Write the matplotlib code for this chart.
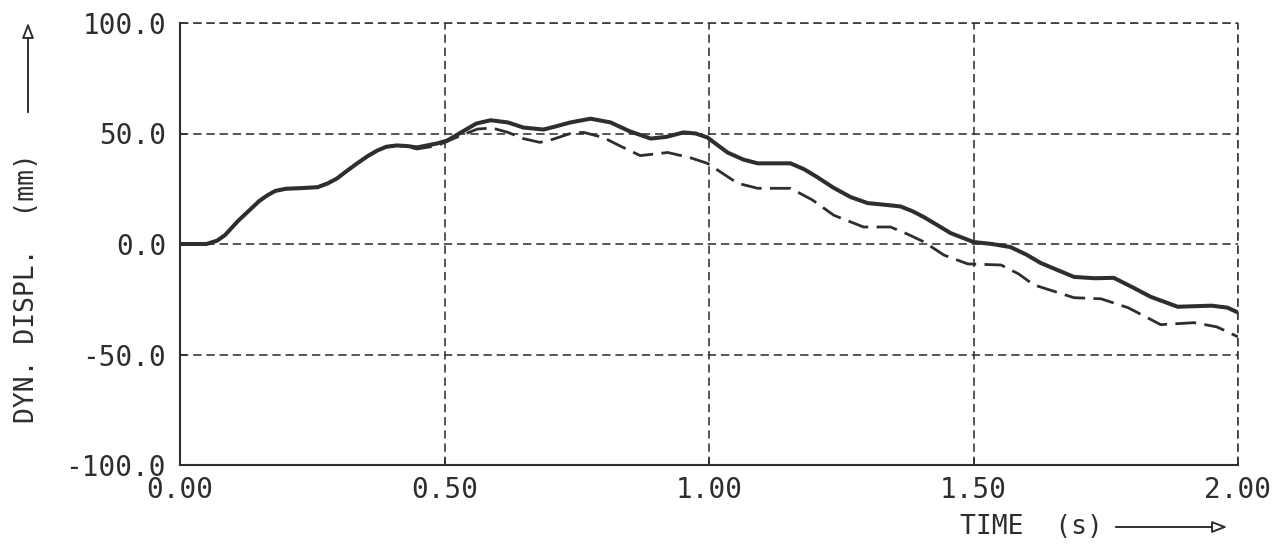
import matplotlib
matplotlib.use("Agg")
import matplotlib.pyplot as plt
from matplotlib.patches import FancyArrowPatch

# values
t_solid = [0, 0.05, 0.07, 0.085, 0.11, 0.13, 0.15, 0.165, 0.18, 0.2, 0.23, 0.26, 0.28,
           0.297, 0.315, 0.335, 0.355, 0.373, 0.39, 0.41,
           0.43, 0.448, 0.486, 0.505, 0.535, 0.56, 0.587, 0.62, 0.649, 0.687, 0.71, 0.738,
           0.776, 0.814, 0.85, 0.89, 0.92, 0.952, 0.975, 0.997, 1.035, 1.065, 1.092,
           1.154, 1.18, 1.205, 1.235, 1.268, 1.3, 1.33, 1.362, 1.385, 1.406, 1.425,
           1.457, 1.5, 1.535, 1.57, 1.6, 1.627, 1.69, 1.73, 1.765, 1.8, 1.835,
           1.886, 1.95, 1.98, 2.0]
y_solid = [0, 0, 1.5, 4, 10.5, 15, 19.5, 22, 24, 25, 25.3, 25.7, 27.5,
           29.7, 33, 36.5, 39.8, 42.3, 44, 44.6,
           44.3, 43.7, 45.5, 46.8, 51, 54.5, 56, 55, 52.7, 51.8, 53.2, 55,
           56.7, 55, 51, 47.7, 48.5, 50.5, 50, 48.2, 41.4, 38.2, 36.5,
           36.5, 33.8, 30.2, 25.5, 21.2, 18.5, 17.8, 17, 14.8, 12.2, 9.5,
           4.9, 0.9, 0, -1.4, -4.8, -8.6, -14.9, -15.5, -15.3, -19.5, -23.9,
           -28.4, -27.9, -28.8, -31]

t_dash = [0, 0.05, 0.07, 0.085, 0.11, 0.13, 0.15, 0.165, 0.18, 0.2, 0.23, 0.26, 0.28,
          0.297, 0.315, 0.335, 0.355, 0.373, 0.39, 0.41,
          0.43, 0.448, 0.486, 0.52, 0.562, 0.59, 0.62, 0.649, 0.68, 0.7, 0.738, 0.763,
          0.8, 0.835, 0.87, 0.9, 0.922, 0.965, 0.997, 1.054, 1.092, 1.154, 1.195,
          1.236, 1.292, 1.343, 1.375, 1.406, 1.444, 1.489, 1.552, 1.585, 1.614,
          1.69, 1.741, 1.792, 1.854, 1.917, 1.96, 2.0]
y_dash = [0, 0, 1.5, 4, 10.5, 15, 19.5, 22, 24, 25, 25.3, 25.7, 27.5,
          29.7, 33, 36.5, 39.8, 42.3, 44, 44.6,
          44, 43, 44.5, 48, 52, 52.5, 50.5, 47.7, 46, 47, 50, 50.5,
          48.2, 44, 40, 40.8, 41.4, 39, 36.5, 27.5, 25.2, 25.2, 20,
          13, 7.7, 7.7, 4.5, 1, -5, -9, -9.5, -13.5, -18.5,
          -24.3, -24.8, -28.8, -36.5, -35.6, -37.5, -42]

x_ticks = [0, 0.5, 1.0, 1.5, 2.0]
x_labels = ["0.00", "0.50", "1.00", "1.50", "2.00"]
y_ticks = [-100, -50, 0, 50, 100]
y_labels = ["-100.0", "-50.0", "0.0", "50.0", "100.0"]

plt.rcParams['lines.scale_dashes'] = False
plt.rcParams['font.family'] = ['DejaVu Sans Mono']

W, H = 1286, 551
fig = plt.figure(figsize=(W / 100, H / 100), dpi=100)
ax = fig.add_axes([180 / W, 1 - 465 / H, (1238 - 180) / W, (465 - 23) / H])

ink = '#2e2e2e'
ax.plot(t_solid, y_solid, color=ink, lw=2.9, solid_joinstyle='round', solid_capstyle='round')
ax.plot(t_dash, y_dash, color=ink, lw=2.0, linestyle=(0, (15, 6)))

ax.set_xlim(0, 2.0)
ax.set_ylim(-100, 100)
ax.set_xticks(x_ticks)
ax.set_xticklabels(x_labels)
ax.set_yticks(y_ticks)
ax.set_yticklabels(y_labels)
ax.tick_params(direction='in', length=5, width=1.2, color=ink, labelsize=20,
               labelcolor=ink)
ax.tick_params(axis='x', pad=8)
ax.tick_params(axis='y', pad=10)

grid_ls = (0, (6, 3.5))
ax.grid(True, color='#3a3a3a', lw=1.2, linestyle=grid_ls)
for s in ['top', 'right']:
    ax.spines[s].set_visible(False)
for s in ['left', 'bottom']:
    ax.spines[s].set_color(ink)
    ax.spines[s].set_linewidth(1.5)
# outer dashed frame at 100 and 2.00
ax.axhline(100, color='#3a3a3a', lw=1.2, linestyle=grid_ls, clip_on=False)
ax.axvline(2.0, color='#3a3a3a', lw=1.2, linestyle=grid_ls, clip_on=False)

fig.text(27 / W, 1 - 288 / H, "DYN. DISPL.  (mm)", rotation=90, ha='center',
         va='center', fontsize=19, color=ink)
fig.text(1031 / W, 1 - 527 / H, "TIME  (s)", ha='center', va='center',
         fontsize=19, color=ink)

for p0, p1 in [((28, 115), (28, 20)), ((1113, 527), (1230, 527))]:
    arr = FancyArrowPatch((p0[0] / W, 1 - p0[1] / H), (p1[0] / W, 1 - p1[1] / H),
                          transform=fig.transFigure,
                          arrowstyle='-|>,head_length=9,head_width=3.5',
                          mutation_scale=1, lw=1.4, color=ink, fc='white')
    fig.add_artist(arr)

fig.savefig("out.png", dpi=100)
